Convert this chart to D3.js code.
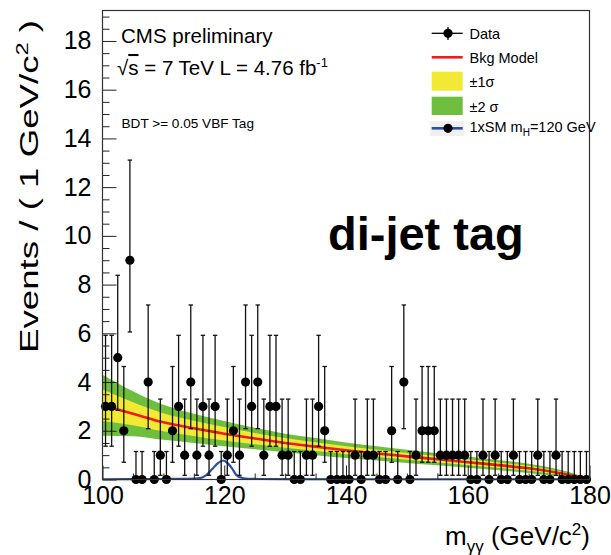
<!DOCTYPE html>
<html>
<head>
<meta charset="utf-8">
<script src="https://cdn.jsdelivr.net/npm/d3@7"></script>
<style>
  body { margin: 0; background: #fff; }
  text { font-family: "Liberation Sans", Arial, Helvetica, sans-serif; }
</style>
</head>
<body>
<div id="chart"></div>
<script>
// ---------------- data ----------------
// observed events per 1 GeV bin, 100..180 GeV
const binLow = d3.range(100, 180, 1);
const counts = [
  3,3,5,2,9,0,0,4,0,1, 0,2,3,1,4,1,3,1,3,0,
  1,2,1,4,3,4,1,3,3,1, 1,0,0,1,1,3,2,0,0,0,
  0,1,0,1,1,0,0,2,0,4, 0,1,2,2,2,1,1,1,1,1,
  0,0,1,0,1,0,0,1,0,0, 0,1,0,0,1,0,0,0,0,0
];
// Poisson (68%) interval per count value 0..9
const poisLow  = [0, 0.173, 0.708, 1.367, 2.086, 2.840, 3.620, 4.419, 5.232, 6.057];
const poisHigh = [1.148, 3.300, 4.638, 5.918, 7.163, 8.382, 9.584, 10.77, 11.95, 13.11];

// background model and its bands
const bkgMass = [100,105,110,115,120,125,130,135,140,145,150,155,160,165,170,175,178,180];
const bkgVal  = [3.05,2.7,2.35,2.1,1.88,1.68,1.5,1.35,1.2,1.07,0.95,0.83,0.71,0.59,0.46,0.27,0.12,0.0];
const band1   = [0.65,0.47,0.37,0.31,0.28,0.23,0.2,0.18,0.16,0.15,0.14,0.13,0.12,0.11,0.1,0.07,0.04,0.01];
const band2   = [1.25,0.92,0.72,0.6,0.52,0.44,0.38,0.35,0.32,0.29,0.27,0.25,0.23,0.21,0.19,0.14,0.08,0.02];

// signal 1xSM mH=120
const sigMass = [100,110,114,116,117,118,119,119.8,120.6,121.3,122,123,124,126,140,160,180];
const sigVal  = [0.01,0.02,0.03,0.06,0.17,0.42,0.68,0.78,0.66,0.45,0.18,0.06,0.03,0.02,0.01,0.01,0.01];

const xTicks = [100,120,140,160,180];
const yTicks = [0,2,4,6,8,10,12,14,16,18];

// ---------------- drawing ----------------
const W = 611, H = 555;
const svg = d3.select("#chart").append("svg").attr("width", W).attr("height", H);
svg.append("rect").attr("width", W).attr("height", H).attr("fill", "#fff");

const x = d3.scaleLinear().domain([100,180]).range([102.5,589.5]);
const y = d3.scaleLinear().domain([0,19.25]).range([479.5,10.5]);

const colYellow = "#f2e935", colGreen = "#6fbf3f", colRed = "#ee1c1c", colBlue = "#2b4ea6";

svg.append("clipPath").attr("id","clip").append("rect")
  .attr("x", x(100)).attr("y", y(19.25)).attr("width", x(180)-x(100)).attr("height", y(0)-y(19.25));

const bkg = bkgMass.map((m,i)=>({m, v:bkgVal[i], s1:band1[i], s2:band2[i]}));
const g = svg.append("g").attr("clip-path","url(#clip)");

g.append("path").datum(bkg).attr("fill", colGreen)
  .attr("d", d3.area().x(d=>x(d.m)).y0(d=>y(Math.max(0,d.v-d.s2))).y1(d=>y(d.v+d.s2)).curve(d3.curveMonotoneX));
g.append("path").datum(bkg).attr("fill", colYellow)
  .attr("d", d3.area().x(d=>x(d.m)).y0(d=>y(Math.max(0,d.v-d.s1))).y1(d=>y(d.v+d.s1)).curve(d3.curveMonotoneX));
g.append("path").datum(bkg).attr("fill","none").attr("stroke", colRed).attr("stroke-width", 2.6)
  .attr("d", d3.line().x(d=>x(d.m)).y(d=>y(d.v)).curve(d3.curveMonotoneX));

const sig = sigMass.map((m,i)=>({m, v:sigVal[i]}));
svg.append("path").datum(sig).attr("fill","none").attr("stroke", colBlue).attr("stroke-width", 2.2)
  .attr("d", d3.line().x(d=>x(d.m)).y(d=>y(d.v)).curve(d3.curveMonotoneX));

// axes ticks (inside)
const yAxis = d3.axisLeft(y).tickValues(yTicks).tickSizeInner(-14).tickSizeOuter(0).tickPadding(11).tickFormat(d3.format("d"));
const ya = svg.append("g").attr("transform", `translate(${x(100)},0)`).call(yAxis);
ya.select(".domain").remove();
ya.selectAll("text").attr("font-size", 25).attr("fill","#000")
  .style("font-family", '"Liberation Sans", Arial, sans-serif');
ya.selectAll("line").attr("stroke","#222");
const yMinor = d3.axisLeft(y).tickValues(d3.range(0,19.25,0.5).filter(v=>v%2!==0)).tickSizeInner(-7).tickSizeOuter(0).tickFormat("");
const ym = svg.append("g").attr("transform", `translate(${x(100)},0)`).call(yMinor);
ym.select(".domain").remove(); ym.selectAll("line").attr("stroke","#222");

const xAxis = d3.axisBottom(x).tickValues(xTicks).tickSizeInner(-14).tickSizeOuter(0).tickPadding(7).tickFormat(d3.format("d"));
const xa = svg.append("g").attr("transform", `translate(0,${y(0)})`).call(xAxis);
xa.select(".domain").remove();
xa.selectAll("text").attr("font-size", 25).attr("fill","#000")
  .style("font-family", '"Liberation Sans", Arial, sans-serif');
xa.selectAll("line").attr("stroke","#222");
const xMinor = d3.axisBottom(x).tickValues(d3.range(105,180,5).filter(v=>v%20!==0)).tickSizeInner(-6).tickSizeOuter(0).tickFormat("");
const xm = svg.append("g").attr("transform", `translate(0,${y(0)})`).call(xMinor);
xm.select(".domain").remove(); xm.selectAll("line").attr("stroke","#222");

// data points with Poisson error bars
const pts = binLow.map((b,i)=>({m:b+0.5, n:counts[i]}));
const dg = svg.append("g");
pts.forEach(p=>{
  const cx = x(p.m), lo = y(poisLow[p.n]), hi = y(poisHigh[p.n]);
  dg.append("line").attr("x1",cx).attr("x2",cx).attr("y1",lo).attr("y2",hi).attr("stroke","#111").attr("stroke-width",1.3);
  dg.append("line").attr("x1",cx-2.2).attr("x2",cx+2.2).attr("y1",lo).attr("y2",lo).attr("stroke","#111").attr("stroke-width",1.3);
  dg.append("line").attr("x1",cx-2.2).attr("x2",cx+2.2).attr("y1",hi).attr("y2",hi).attr("stroke","#111").attr("stroke-width",1.3);
});
dg.selectAll("circle").data(pts).join("circle")
  .attr("cx", d=>x(d.m)).attr("cy", d=>y(d.n)).attr("r", 4.6).attr("fill","#000");

// frame
svg.append("rect").attr("x", x(100)).attr("y", y(19.25)).attr("width", x(180)-x(100)).attr("height", y(0)-y(19.25))
  .attr("fill","none").attr("stroke","#333").attr("stroke-width",1.2);

// texts
svg.append("text").attr("x",121).attr("y",43).attr("font-size",20.5).text("CMS preliminary");
const t2 = svg.append("text").attr("x",117).attr("y",75).attr("font-size",20.5);
t2.append("tspan").text("√");
t2.append("tspan").style("text-decoration","overline").text("s");
t2.append("tspan").text(" = 7 TeV L = 4.76 fb");
t2.append("tspan").attr("font-size",13).attr("dy",-8).text("-1");
svg.append("text").attr("x",121.5).attr("y",128).attr("font-size",13.6).text("BDT >= 0.05 VBF Tag");

svg.append("text").attr("x",328).attr("y",250).attr("font-size",47).attr("font-weight","bold").text("di-jet tag");

// legend
const lx0 = 431.7, lx1 = 462.7, lxm = 448, ltx = 469.5;
svg.append("line").attr("x1",lx0).attr("x2",lx1).attr("y1",33.3).attr("y2",33.3).attr("stroke","#000").attr("stroke-width",1.3);
svg.append("line").attr("x1",lxm).attr("x2",lxm).attr("y1",27).attr("y2",40).attr("stroke","#000").attr("stroke-width",1.3);
svg.append("circle").attr("cx",lxm).attr("cy",33.3).attr("r",4.6).attr("fill","#000");
svg.append("text").attr("x",ltx).attr("y",38.5).attr("font-size",14.5).text("Data");
svg.append("line").attr("x1",lx0).attr("x2",lx1).attr("y1",57.3).attr("y2",57.3).attr("stroke",colRed).attr("stroke-width",2.6);
svg.append("text").attr("x",ltx).attr("y",62.7).attr("font-size",14.5).text("Bkg Model");
svg.append("rect").attr("x",lx0).attr("y",71.7).attr("width",lx1-lx0).attr("height",19).attr("fill",colYellow);
svg.append("text").attr("x",ltx).attr("y",87.3).attr("font-size",14.5).text("±1σ");
svg.append("rect").attr("x",lx0).attr("y",96.7).attr("width",lx1-lx0).attr("height",18.3).attr("fill",colGreen);
svg.append("text").attr("x",ltx).attr("y",111.7).attr("font-size",14.5).text("±2 σ");
svg.append("rect").attr("x",lx0-1.5).attr("y",121).attr("width",lx1-lx0+3).attr("height",15).attr("fill","#f0f0f0");
svg.append("line").attr("x1",lx0).attr("x2",lx1).attr("y1",128.3).attr("y2",128.3).attr("stroke",colBlue).attr("stroke-width",2.6);
svg.append("circle").attr("cx",lxm).attr("cy",128.3).attr("r",4.6).attr("fill","#000");
const t5 = svg.append("text").attr("x",ltx).attr("y",131.5).attr("font-size",14.5);
t5.append("tspan").text("1xSM m");
t5.append("tspan").attr("font-size",10).attr("dy",4).text("H");
t5.append("tspan").attr("dy",-4).text("=120 GeV");

// axis titles
const yt = svg.append("text").attr("transform","translate(37.5,20) rotate(-90)")
  .attr("text-anchor","end").attr("font-size",26.5)
  .attr("textLength",333).attr("lengthAdjust","spacingAndGlyphs");
yt.append("tspan").text("Events / ( 1 GeV/c");
yt.append("tspan").attr("font-size",17).attr("dy",-10).text("2");
yt.append("tspan").attr("dy",10).text(" )");

const xt = svg.append("text").attr("x",590).attr("y",545).attr("text-anchor","end").attr("font-size",26);
xt.append("tspan").text("m");
xt.append("tspan").attr("font-size",17).attr("dy",7).text("γγ");
xt.append("tspan").attr("dy",-7).text(" (GeV/c");
xt.append("tspan").attr("font-size",17).attr("dy",-10).text("2");
xt.append("tspan").attr("dy",10).text(")");
</script>
</body>
</html>
